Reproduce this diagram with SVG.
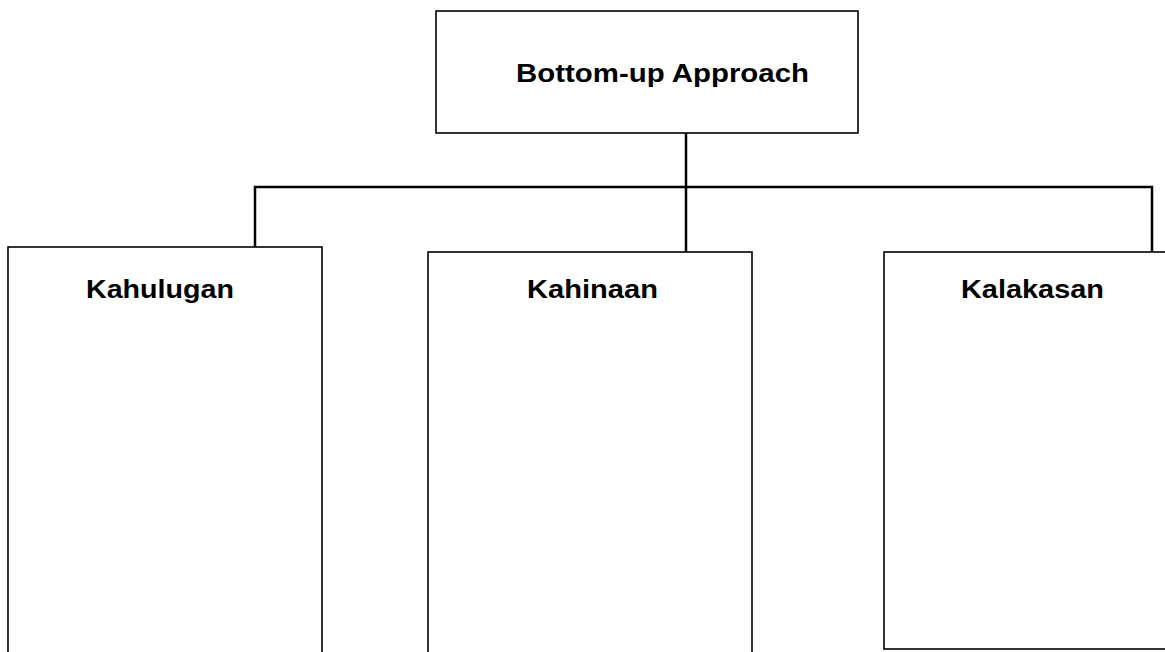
<svg xmlns="http://www.w3.org/2000/svg" width="1165" height="652" viewBox="0 0 1165 652">
<style>
.box{fill:#fff;stroke:#000;stroke-width:1.6}
.conn{fill:none;stroke:#000;stroke-width:2.5}
.lbl{font-family:"Liberation Sans",Arial,sans-serif;font-weight:bold;font-size:26px;fill:#000}
</style>
<rect width="1165" height="652" fill="#fff"/>
<g id="connectors">
<line class="conn" x1="686" y1="133" x2="686" y2="252"/>
<polyline class="conn" points="255,247 255,187 1152,187 1152,254"/>
</g>
<g id="node-top">
<rect class="box" x="436" y="11" width="422" height="122"/>
<text class="lbl" x="516" y="82" textLength="293" lengthAdjust="spacingAndGlyphs">Bottom-up Approach</text>
</g>
<g id="node-kahulugan">
<rect class="box" x="8" y="247" width="314" height="420"/>
<text class="lbl" x="86" y="298" textLength="148" lengthAdjust="spacingAndGlyphs">Kahulugan</text>
</g>
<g id="node-kahinaan">
<rect class="box" x="428" y="252" width="324" height="420"/>
<text class="lbl" x="527" y="298" textLength="131" lengthAdjust="spacingAndGlyphs">Kahinaan</text>
</g>
<g id="node-kalakasan">
<rect class="box" x="884" y="252" width="300" height="397"/>
<text class="lbl" x="961" y="298" textLength="143" lengthAdjust="spacingAndGlyphs">Kalakasan</text>
</g>
</svg>
